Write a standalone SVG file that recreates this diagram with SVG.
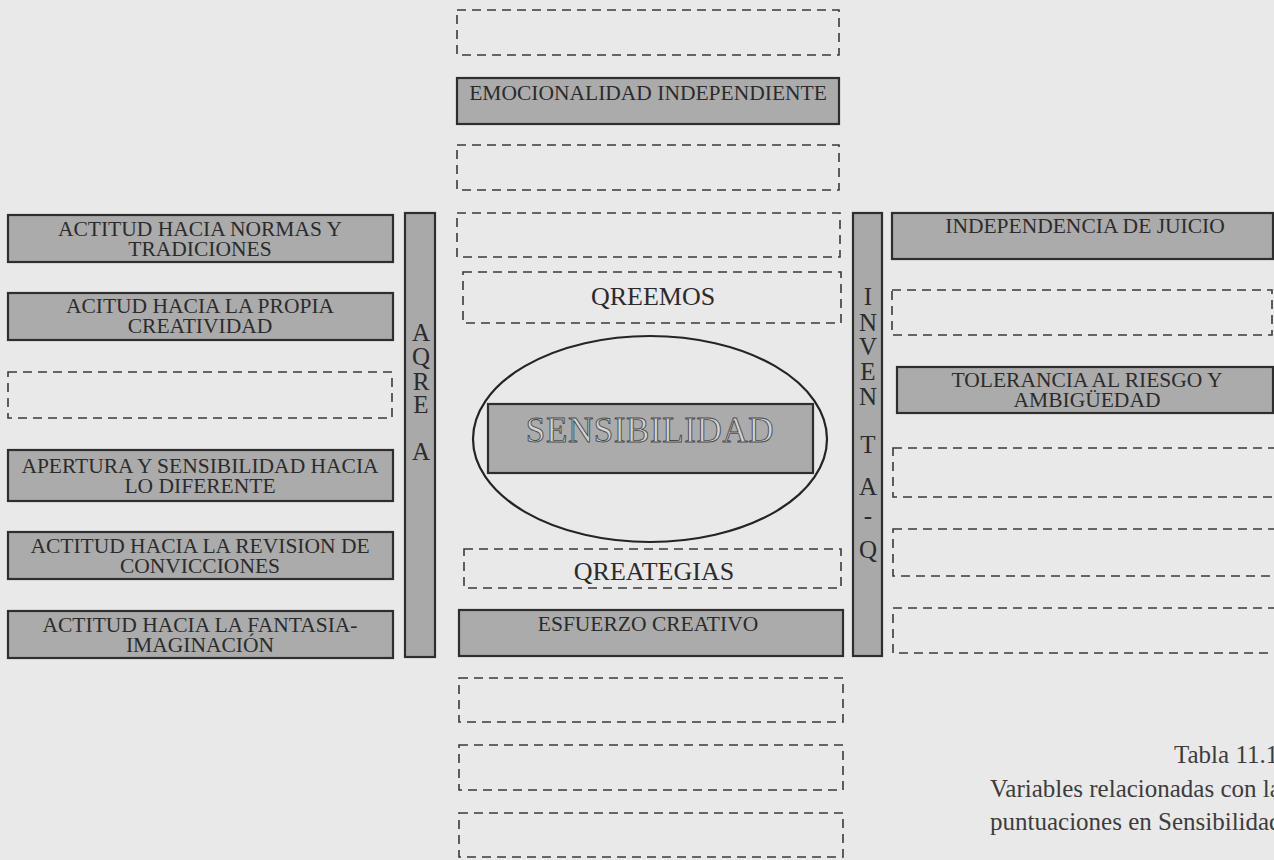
<svg xmlns="http://www.w3.org/2000/svg" width="1274" height="860" viewBox="0 0 1274 860">
  <style>
    .bg { fill: #e9e9e9; }
    .box { fill: #ababab; stroke: #2e2e2e; stroke-width: 2.2; }
    .dash { fill: none; stroke: #3a3a3a; stroke-width: 1.6; stroke-dasharray: 9 6; }
    .bar { fill: #a9a9a9; stroke: #2e2e2e; stroke-width: 2.2; }
    .lbl { font-family: "Liberation Serif", "Times New Roman", serif; font-size: 21.5px; fill: #2b2b2b; text-anchor: middle; }
    .big { font-family: "Liberation Serif", "Times New Roman", serif; font-size: 26px; fill: #2b2b2b; text-anchor: middle; }
    .vert { font-family: "Liberation Serif", "Times New Roman", serif; font-size: 25px; fill: #2b2b2b; text-anchor: middle; }
    .core { font-family: "Liberation Serif", "Times New Roman", serif; font-size: 35px; fill: #d4d4d4; stroke: #4a4a4a; stroke-width: 0.9; text-anchor: middle; letter-spacing: 0.6px; }
    .cap { font-family: "Liberation Serif", "Times New Roman", serif; font-size: 25px; fill: #3c3c3c; }
  </style>

  <rect class="bg" x="0" y="0" width="1274" height="860"/>

  <!-- central column -->
  <g id="c-empty-1"><rect class="dash" x="457" y="10" width="382" height="45"/></g>
  <g id="c-emocionalidad">
    <rect class="box" x="457" y="78" width="382" height="46"/>
    <text class="lbl" x="648" y="100">EMOCIONALIDAD INDEPENDIENTE</text>
  </g>
  <g id="c-empty-2"><rect class="dash" x="457" y="145" width="382" height="45"/></g>
  <g id="c-empty-3"><rect class="dash" x="457" y="213" width="383" height="44"/></g>
  <g id="c-qreemos">
    <rect class="dash" x="463" y="272" width="378" height="51"/>
    <text class="big" x="653" y="305">QREEMOS</text>
  </g>
  <g id="core">
    <ellipse cx="650" cy="439" rx="177" ry="103" fill="none" stroke="#242424" stroke-width="2.2"/>
    <rect class="box" x="488" y="404" width="325" height="69"/>
    <text class="core" x="650" y="442">SENSIBILIDAD</text>
  </g>
  <g id="c-qreategias">
    <rect class="dash" x="464" y="549" width="377" height="39"/>
    <text class="big" x="654" y="580">QREATEGIAS</text>
  </g>
  <g id="c-esfuerzo">
    <rect class="box" x="459" y="610" width="384" height="46"/>
    <text class="lbl" x="648" y="631">ESFUERZO CREATIVO</text>
  </g>
  <g id="c-empty-4"><rect class="dash" x="459" y="678" width="384" height="44"/></g>
  <g id="c-empty-5"><rect class="dash" x="459" y="745" width="384" height="45"/></g>
  <g id="c-empty-6"><rect class="dash" x="459" y="813" width="384" height="44"/></g>

  <!-- left column: AQREA -->
  <g id="l-normas">
    <rect class="box" x="8" y="215" width="385" height="47"/>
    <text class="lbl" x="200" y="236">ACTITUD HACIA NORMAS Y</text>
    <text class="lbl" x="200" y="256">TRADICIONES</text>
  </g>
  <g id="l-propia">
    <rect class="box" x="8" y="293" width="385" height="47"/>
    <text class="lbl" x="200" y="313">ACITUD HACIA LA PROPIA</text>
    <text class="lbl" x="200" y="333">CREATIVIDAD</text>
  </g>
  <g id="l-empty"><rect class="dash" x="8" y="372" width="384" height="46"/></g>
  <g id="l-apertura">
    <rect class="box" x="8" y="450" width="385" height="51"/>
    <text class="lbl" x="200" y="473">APERTURA Y SENSIBILIDAD HACIA</text>
    <text class="lbl" x="200" y="493">LO DIFERENTE</text>
  </g>
  <g id="l-revision">
    <rect class="box" x="8" y="532" width="385" height="47"/>
    <text class="lbl" x="200" y="553">ACTITUD HACIA LA REVISION DE</text>
    <text class="lbl" x="200" y="573">CONVICCIONES</text>
  </g>
  <g id="l-fantasia">
    <rect class="box" x="8" y="611" width="385" height="47"/>
    <text class="lbl" x="200" y="632">ACTITUD HACIA LA FANTASIA-</text>
    <text class="lbl" x="200" y="652">IMAGINACIÓN</text>
  </g>
  <g id="bar-aqrea">
    <rect class="bar" x="405" y="213" width="30" height="444"/>
    <text class="vert" x="421" y="341">A</text>
    <text class="vert" x="421" y="365">Q</text>
    <text class="vert" x="421" y="390">R</text>
    <text class="vert" x="421" y="413">E</text>
    <text class="vert" x="421" y="460">A</text>
  </g>

  <!-- right column: INVENTA-Q -->
  <g id="bar-inventa">
    <rect class="bar" x="853" y="213" width="29" height="443"/>
    <text class="vert" x="868" y="305">I</text>
    <text class="vert" x="868" y="331">N</text>
    <text class="vert" x="868" y="355">V</text>
    <text class="vert" x="868" y="380">E</text>
    <text class="vert" x="868" y="405">N</text>
    <text class="vert" x="868" y="453">T</text>
    <text class="vert" x="868" y="495">A</text>
    <text class="vert" x="868" y="524">-</text>
    <text class="vert" x="868" y="558">Q</text>
  </g>
  <g id="r-juicio">
    <rect class="box" x="892" y="213" width="381" height="46"/>
    <text class="lbl" x="1085" y="233">INDEPENDENCIA DE JUICIO</text>
  </g>
  <g id="r-empty-1"><rect class="dash" x="892" y="290" width="380" height="45"/></g>
  <g id="r-tolerancia">
    <rect class="box" x="897" y="367" width="376" height="46"/>
    <text class="lbl" x="1087" y="387">TOLERANCIA AL RIESGO Y</text>
    <text class="lbl" x="1087" y="407">AMBIGÜEDAD</text>
  </g>
  <g id="r-empty-2"><rect class="dash" x="893" y="448" width="390" height="49"/></g>
  <g id="r-empty-3"><rect class="dash" x="893" y="529" width="390" height="47"/></g>
  <g id="r-empty-4"><rect class="dash" x="893" y="608" width="390" height="45"/></g>

  <!-- connectors: none drawn -->
  <g id="connectors"/>

  <!-- caption -->
  <g id="caption">
    <text class="cap" x="1174" y="763">Tabla 11.1</text>
    <text class="cap" x="990" y="797">Variables relacionadas con las</text>
    <text class="cap" x="990" y="830">puntuaciones en Sensibilidad</text>
  </g>
</svg>
